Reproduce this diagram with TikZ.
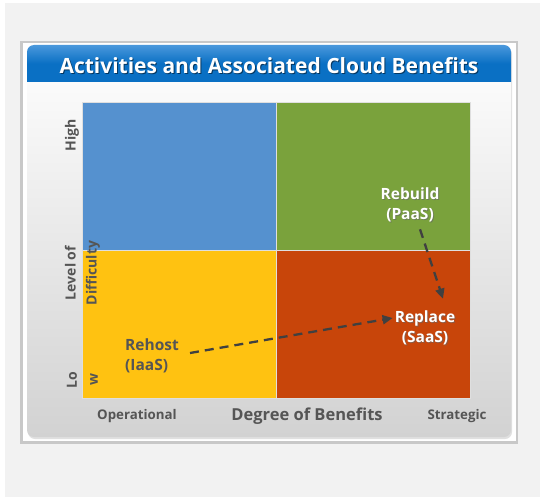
\documentclass[tikz,border=0pt]{standalone}
\usepackage{fontspec}
\setmainfont{Open Sans}
\usetikzlibrary{arrows.meta}
\definecolor{bggray}{HTML}{F2F2F2}
\definecolor{framegray}{HTML}{C8C8C8}
\definecolor{panelbot}{HTML}{D2D2D2}
\definecolor{titleblue}{HTML}{0A70C4}
\definecolor{titletop}{HTML}{4A98DC}
\definecolor{qblue}{HTML}{5591CF}
\definecolor{qgreen}{HTML}{7AA23C}
\definecolor{qyellow}{HTML}{FFC211}
\definecolor{qred}{HTML}{C8450A}
\definecolor{labgray}{HTML}{555555}
\definecolor{arrowgray}{HTML}{404040}
\tikzset{
  quad/.style={draw=white!75!gray, line width=0.6pt, minimum width=194pt, minimum height=148pt, inner sep=0pt, outer sep=0pt},
  axislab/.style={font=\bfseries\fontsize{13.3}{15}\selectfont, text=labgray, inner sep=0pt},
  sidelab/.style={font=\bfseries\fontsize{14}{21}\selectfont, text=labgray, inner sep=0pt, rotate=90, align=center},
  whitelab/.style={font=\bfseries\fontsize{15.5}{20}\selectfont, text=white, align=center, inner sep=0pt},
  shadowlab/.style={font=\bfseries\fontsize{15.5}{20}\selectfont, text=black!60, align=center, inner sep=0pt, opacity=0.6},
  graylab/.style={font=\bfseries\fontsize{15.5}{20.5}\selectfont, text=labgray, align=left, inner sep=0pt},
  flow/.style={draw=arrowgray, line width=2.3pt, dash pattern=on 9pt off 6pt, -{Triangle[length=10pt,width=9pt]}}
}
\begin{document}
\begin{tikzpicture}[x=1pt,y=-1pt]
\useasboundingbox (0,0) rectangle (540,497);
\fill[white] (0,0) rectangle (540,497);
\fill[bggray] (5,3) rectangle (540,497);
% frame
\fill[framegray] (20,41) rectangle (518,444);
\fill[white] (23,43) rectangle (516,441);
% panel
\fill[black!12] (28,47) [rounded corners=7pt] rectangle (512,439);
\shade[top color=white, bottom color=panelbot, rounded corners=7pt] (27,45) rectangle (511,437);
% title bar
\begin{scope}
\clip[rounded corners=7pt] (27,45) rectangle (511,100);
\shade[top color=titletop, bottom color=titleblue, middle color=titleblue] (27,45) rectangle (511,82);
\end{scope}
\node[font=\bfseries\fontsize{21}{24}\selectfont, text=black, opacity=0.5] at (270,66.5) {Activities and Associated Cloud Benefits};
\node[font=\bfseries\fontsize{21}{24}\selectfont, text=white] (title) at (269,65.5) {Activities and Associated Cloud Benefits};
% quadrants
\node[quad, fill=qblue, anchor=north west] (q1) at (82,102) {};
\node[quad, fill=qgreen, anchor=north west] (q2) at (276,102) {};
\node[quad, fill=qyellow, anchor=north west] (q3) at (82,250) {};
\node[quad, fill=qred, anchor=north west] (q4) at (276,250) {};
% side labels
\node[sidelab] (high) at (72,135) {High};
\node[sidelab] (lod) at (82.5,273) {Level of\\Difficulty};
\node[sidelab] (low) at (82.5,380) {Lo\\w};
% bottom labels
\node[axislab] (oper) at (137,416) {Operational};
\node[axislab, font=\bfseries\fontsize{16.5}{18}\selectfont] (deg) at (307,416) {Degree of Benefits};
\node[axislab] (strat) at (457,416) {Strategic};
% quadrant labels
\node[shadowlab] at (411,206) {Rebuild\\(PaaS)};
\node[whitelab] (rebuild) at (410,205) {Rebuild\\(PaaS)};
\node[shadowlab] at (426,329) {Replace\\(SaaS)};
\node[whitelab] (replace) at (425,328) {Replace\\(SaaS)};
\node[graylab, anchor=west] (rehost) at (125,356) {Rehost\\(IaaS)};
% connectors
\coordinate (a1s) at ([xshift=11pt,yshift=3pt]rehost.east);
\coordinate (a1e) at ([xshift=-2pt,yshift=10pt]replace.west);
\draw[flow] (a1s) -- (a1e);
\coordinate (a2s) at ([xshift=10pt,yshift=-7pt]rebuild.south);
\coordinate (a2e) at ([xshift=18pt,yshift=12pt]replace.north);
\draw[flow] (a2s) -- (a2e);
\end{tikzpicture}
\end{document}
